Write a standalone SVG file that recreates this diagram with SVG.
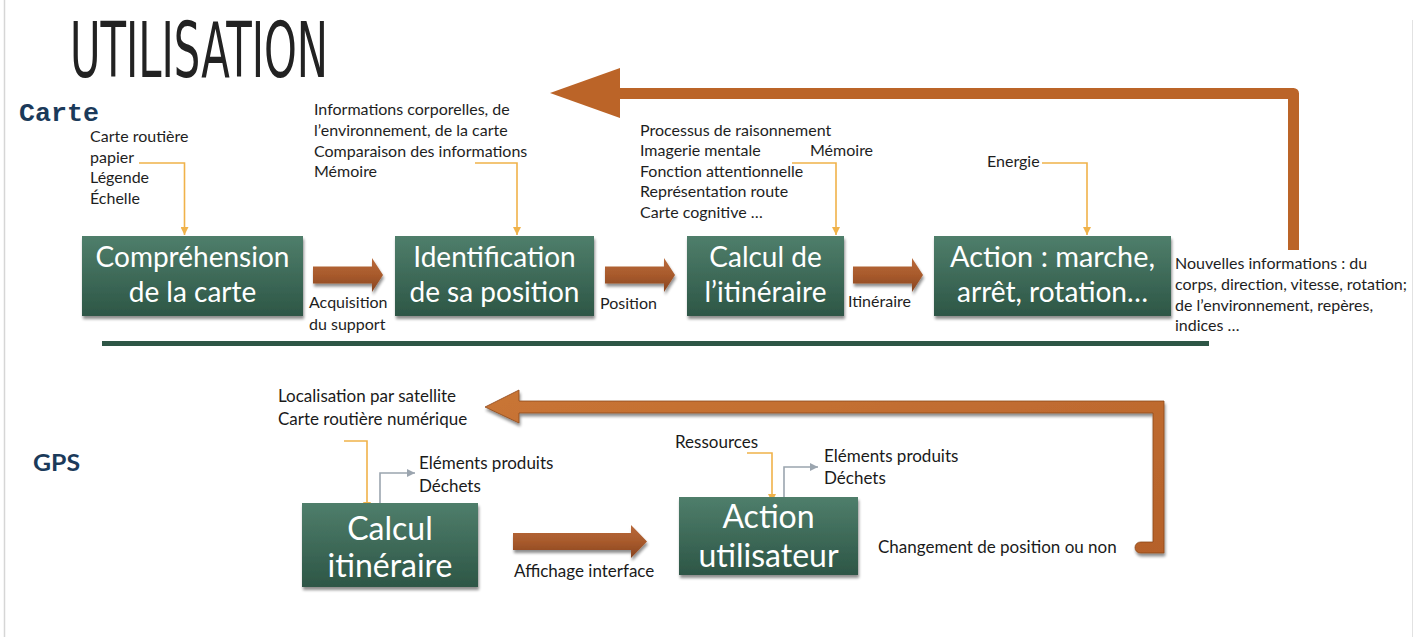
<svg xmlns="http://www.w3.org/2000/svg" width="1416" height="637" viewBox="0 0 1416 637">
<style>
.t { font-family: Lato, "Open Sans", "Liberation Sans", sans-serif; font-size: 16px; fill: #1e1e1e; }
.g { font-family: Lato, "Open Sans", "Liberation Sans", sans-serif; font-size: 17px; fill: #1a1a1a; }
.bl { font-family: Lato, "Open Sans", "Liberation Sans", sans-serif; font-size: 28px; fill: #ffffff; text-anchor: middle; }
.bl2 { font-family: Lato, "Open Sans", "Liberation Sans", sans-serif; font-size: 32px; fill: #ffffff; text-anchor: middle; }
.box { fill: url(#boxGrad); filter: url(#shadow); }
.or { fill: none; stroke: #f0b24a; stroke-width: 1.6; }
.gr { fill: none; stroke: #9ba5af; stroke-width: 1.6; }
.sec { font-family: "Liberation Mono", "DejaVu Sans Mono", monospace; font-weight: bold; fill: #1b3a5a; }
.barrow { fill: url(#brownGrad); filter: url(#shadow); }
</style>
<defs>
<linearGradient id="boxGrad" x1="0" y1="0" x2="0" y2="1">
<stop offset="0" stop-color="#4f7e6b"/>
<stop offset="1" stop-color="#2d5646"/>
</linearGradient>
<linearGradient id="brownGrad" x1="0" y1="0" x2="0" y2="1">
<stop offset="0" stop-color="#b9693a"/>
<stop offset="0.5" stop-color="#a85a2c"/>
<stop offset="1" stop-color="#874420"/>
</linearGradient>
<linearGradient id="loopGrad" x1="0" y1="0" x2="1" y2="1">
<stop offset="0" stop-color="#c97535"/>
<stop offset="1" stop-color="#b5612a"/>
</linearGradient>
<filter id="shadow" x="-10%" y="-10%" width="125%" height="135%">
<feGaussianBlur in="SourceAlpha" stdDeviation="1.5"/>
<feOffset dx="1" dy="2.5" result="o"/>
<feComponentTransfer><feFuncA type="linear" slope="0.45"/></feComponentTransfer>
<feMerge><feMergeNode/><feMergeNode in="SourceGraphic"/></feMerge>
</filter>
<marker id="mOr" viewBox="0 0 8 8" refX="8" refY="4" markerWidth="8" markerHeight="8" markerUnits="userSpaceOnUse" orient="auto">
<path d="M0,0 L8,4 L0,8 Z" fill="#f0b24a"/>
</marker>
<marker id="mGr" viewBox="0 0 8 8" refX="8" refY="4" markerWidth="8" markerHeight="8" markerUnits="userSpaceOnUse" orient="auto">
<path d="M0,0 L8,4 L0,8 Z" fill="#9ba5af"/>
</marker>
<path id="blockArrow" d="M0,-8.5 H59 V-17 L70,0 L59,17 V8.5 H0 Z"/>
</defs>

<rect width="1416" height="637" fill="#ffffff"/>
<line x1="4.5" y1="0" x2="4.5" y2="637" stroke="#d6d6d6" stroke-width="1.5"/>
<line x1="1412.5" y1="20" x2="1412.5" y2="637" stroke="#e2e2e2" stroke-width="1"/>

<text x="70" y="77" font-family="'Liberation Sans Narrow', 'DejaVu Sans Condensed', 'Liberation Sans', sans-serif" font-size="76" fill="#222222" textLength="258" lengthAdjust="spacingAndGlyphs">UTILISATION</text>

<text class="sec" x="19" y="121" font-size="26" textLength="80" lengthAdjust="spacingAndGlyphs">Carte</text>
<text x="33" y="471" font-family="Lato, 'Liberation Sans', sans-serif" font-weight="bold" font-size="23" fill="#1b3a5a" textLength="47" lengthAdjust="spacingAndGlyphs">GPS</text>

<rect x="102" y="341" width="1107" height="5" fill="#2e5646"/>

<g id="connectors">
<path d="M1293.5,250 V93.5 H616" fill="none" stroke="#bb6428" stroke-width="11" stroke-linejoin="round"/>
<polygon points="550,93 620,68 620,118" fill="#bb6428"/>

<use href="#blockArrow" class="barrow" transform="translate(313,275)"/>
<use href="#blockArrow" class="barrow" transform="translate(605,275)"/>
<use href="#blockArrow" class="barrow" transform="translate(853,275)"/>

<path class="barrow" d="M513,533 H631 V525 L647,541.5 L631,558 V550 H513 Z"/>
<path d="M485,407 L519,390 V401 H1164 V553 H1140.5 A5.5,5.5 0 0 1 1140.5,542 H1153 V413 H519 V423 Z" fill="url(#loopGrad)" stroke="#8e4a1d" stroke-width="0.8" filter="url(#shadow)"/>

<path class="or" d="M139,163 H184.5 V235" marker-end="url(#mOr)"/>
<path class="or" d="M475,163 H517 V235" marker-end="url(#mOr)"/>
<path class="or" d="M792,163 H836 V235" marker-end="url(#mOr)"/>
<path class="or" d="M1042,163 H1087 V235" marker-end="url(#mOr)"/>
<path class="or" d="M344,441 H367 V510" marker-end="url(#mOr)"/>
<path class="or" d="M747,453 H772 V502" marker-end="url(#mOr)"/>
<path class="gr" d="M380,503 V473 H415" marker-end="url(#mGr)"/>
<path class="gr" d="M784,497 V467 H818" marker-end="url(#mGr)"/>
</g>

<g id="node-comprehension">
<rect class="box" x="82" y="236" width="221" height="80"/>
<text class="bl" x="192.5" y="267">Compréhension</text>
<text class="bl" x="192.5" y="302">de la carte</text>
</g>
<g id="node-identification">
<rect class="box" x="395" y="236" width="199" height="80"/>
<text class="bl" x="494.5" y="267">Identification</text>
<text class="bl" x="494.5" y="302">de sa position</text>
</g>
<g id="node-calcul">
<rect class="box" x="687" y="236" width="157" height="80"/>
<text class="bl" x="765.5" y="267">Calcul de</text>
<text class="bl" x="765.5" y="302">l’itinéraire</text>
</g>
<g id="node-action">
<rect class="box" x="934" y="236" width="237" height="80"/>
<text class="bl" x="1052.5" y="267" textLength="205" lengthAdjust="spacingAndGlyphs">Action : marche,</text>
<text class="bl" x="1052.5" y="302" textLength="191" lengthAdjust="spacingAndGlyphs">arrêt, rotation…</text>
</g>
<g id="node-calcul-gps">
<rect class="box" x="302" y="503" width="176" height="84"/>
<text class="bl2" x="390" y="540">Calcul</text>
<text class="bl2" x="390" y="577">itinéraire</text>
</g>
<g id="node-action-gps">
<rect class="box" x="679" y="497" width="179" height="78"/>
<text class="bl2" x="768.5" y="528">Action</text>
<text class="bl2" x="768.5" y="567">utilisateur</text>
</g>

<g id="labels-carte">
<text class="t" x="90" y="142">Carte routière</text>
<text class="t" x="90" y="163">papier</text>
<text class="t" x="90" y="183">Légende</text>
<text class="t" x="90" y="204">Échelle</text>
<text class="t" x="314" y="115">Informations corporelles, de</text>
<text class="t" x="314" y="136">l’environnement, de la carte</text>
<text class="t" x="314" y="157">Comparaison des informations</text>
<text class="t" x="314" y="177">Mémoire</text>
<text class="t" x="640" y="136">Processus de raisonnement</text>
<text class="t" x="640" y="156">Imagerie mentale</text>
<text class="t" x="810" y="156">Mémoire</text>
<text class="t" x="640" y="177">Fonction attentionnelle</text>
<text class="t" x="640" y="197">Représentation route</text>
<text class="t" x="640" y="218">Carte cognitive …</text>
<text class="t" x="987" y="167">Energie</text>
<text class="t" x="1175" y="269">Nouvelles informations : du</text>
<text class="t" x="1175" y="290">corps, direction, vitesse, rotation;</text>
<text class="t" x="1175" y="311">de l’environnement, repères,</text>
<text class="t" x="1175" y="331">indices …</text>
<text class="t" x="309" y="308">Acquisition</text>
<text class="t" x="309" y="330">du support</text>
<text class="t" x="600" y="309">Position</text>
<text class="t" x="848" y="307">Itinéraire</text>
</g>

<g id="labels-gps">
<text class="g" x="278" y="402">Localisation par satellite</text>
<text class="g" x="278" y="425">Carte routière numérique</text>
<text class="g" x="419" y="469">Eléments produits</text>
<text class="g" x="419" y="492">Déchets</text>
<text class="g" x="675" y="448">Ressources</text>
<text class="g" x="824" y="462">Eléments produits</text>
<text class="g" x="824" y="484">Déchets</text>
<text class="g" x="514" y="577">Affichage interface</text>
<text class="g" x="878" y="553">Changement de position ou non</text>
</g>
</svg>
